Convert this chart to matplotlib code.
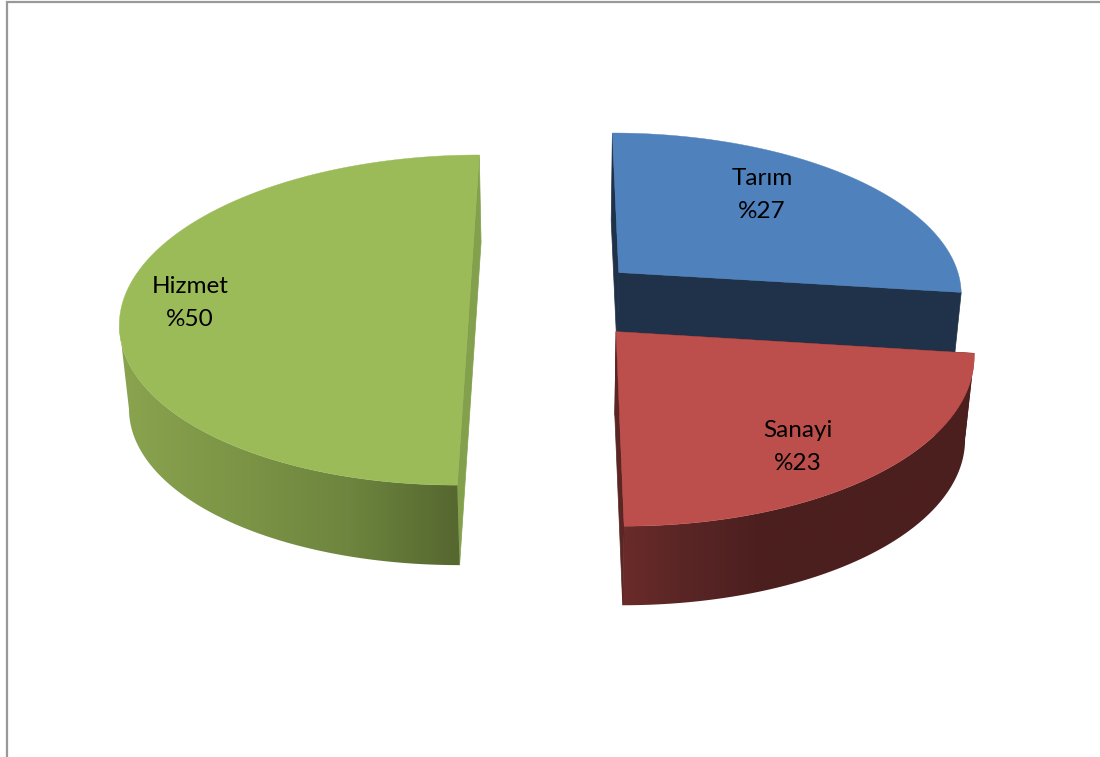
import numpy as np
import matplotlib
matplotlib.use("Agg")
import matplotlib.pyplot as plt
from matplotlib.colors import to_rgb
from matplotlib.patches import Polygon

# data
categories = ["Tarım", "Sanayi", "Hizmet"]
values = [27, 23, 50]

# style
top_colors = ["#4F81BD", "#BC4F4C", "#9BBB59"]
cut_colors = ["#1F3249", "#5A2523", "#83A04C"]
rim_stops = [
    ([600, 960], ["#1F3249", "#1F3249"]),
    ([623, 680, 760, 970], ["#6A2B2A", "#5A2625", "#4C1F1F", "#4C1F1F"]),
    ([125, 250, 350, 458], ["#89A34F", "#7A9345", "#6D853E", "#566730"]),
]
label_xy = [(762, 195), (798, 447), (190, 303)]
nudge_x = [0.0, 0.007, 0.0]
nudge_y = [0.003, 0.003, 0.0]

EXPLODE_X, EXPLODE_Y = 0.248, 0.257
CENTER_X, CENTER_Y = -0.010, 0.18
A, K = 354.0, 0.1237
VX, VY, D = 559.0, -1044.0, 1374.0
T, C = 0.978, 90.7


def project(X, Y):
    w = 1.0 / (1.0 + K * Y)
    return VX + A * X * w, VY + D * w


def extrude(x, y):
    return VX + (x - VX) * T, y * T + C


fig = plt.figure(figsize=(11, 7.57), dpi=100)
ax = fig.add_axes([0, 0, 1, 1])

# frame
ax.plot([7, 7, 1100], [757, 1.5, 1.5], color="#999999", lw=1.6, solid_joinstyle="miter")

angles = np.cumsum([0] + values) / sum(values) * 2 * np.pi
for i in range(len(values)):
    t0, t1 = angles[i], angles[i + 1]
    mid = (t0 + t1) / 2
    ex = EXPLODE_X * np.sin(mid) + CENTER_X + nudge_x[i]
    ey = EXPLODE_Y * np.cos(mid) + CENTER_Y + nudge_y[i]
    th = np.linspace(t0, t1, 400)
    x, y = project(ex + np.sin(th), ey + np.cos(th))
    ax_, ay_ = project(np.array([ex]), np.array([ey]))
    bx, by = extrude(x, y)
    abx, aby = extrude(ax_, ay_)
    z = 2 + 4 * i

    def cut(k, zorder):
        ax.fill([ax_[0], x[k], bx[k], abx[0]], [ay_[0], y[k], by[k], aby[0]],
                color=cut_colors[i], lw=0.5, zorder=zorder)

    cut(0, z)

    # rim: only the part in front of the silhouette's side point
    ext = np.argmin(x) if mid > np.pi else np.argmax(x)
    keep = np.cos(th) <= np.cos(th[ext]) + 1e-9
    stops, cols = rim_stops[i]
    rgb = np.array([to_rgb(c) for c in cols])
    grid = np.linspace(x.min() - 15, x.max() + 15, 600)
    grad = np.column_stack([np.interp(grid, stops, rgb[:, j]) for j in range(3)])[None, :, :]
    im = ax.imshow(grad, extent=[grid[0], grid[-1], by.max() + 5, y.min() - 5],
                   aspect="auto", interpolation="bilinear", zorder=z + 1)
    rim = Polygon(np.column_stack([np.r_[x[keep], bx[keep][::-1]], np.r_[y[keep], by[keep][::-1]]]),
                  closed=True, transform=ax.transData, fc="none", ec="none")
    ax.add_patch(rim)
    im.set_clip_path(rim)

    cut(-1, z + 2)

    # top
    ax.fill(np.r_[ax_, x], np.r_[ay_, y], color=top_colors[i], lw=0.3, zorder=z + 3)

    lx, ly = label_xy[i]
    ax.text(lx, ly, f"{categories[i]}\n%{values[i]}", ha="center", va="center",
            fontsize=17.5, family="Lato", color="black", linespacing=1.74, zorder=30)

ax.set_xlim(0, 1100)
ax.set_ylim(757, 0)
ax.axis("off")

fig.savefig("out.png", dpi=100, facecolor="white")
